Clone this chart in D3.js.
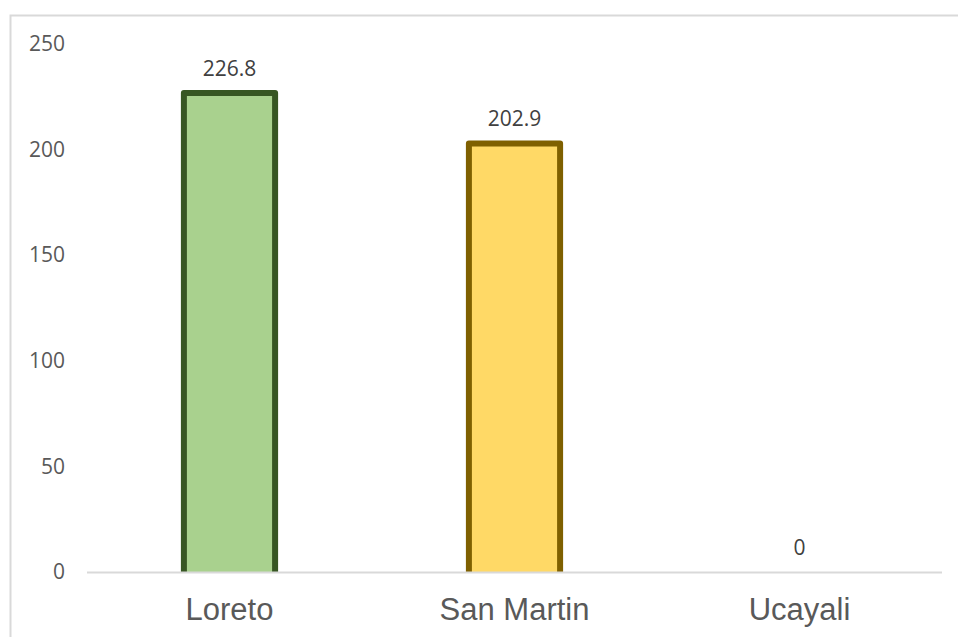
<!DOCTYPE html>
<html><head><meta charset="utf-8">
<script src="https://cdn.jsdelivr.net/npm/d3@7"></script>
<style>body{margin:0;background:#fff}svg{display:block}</style>
</head><body>
<script>
const categories = ["Loreto", "San Martin", "Ucayali"];
const values = [226.8, 202.9, 0];
const valueLabels = ["226.8", "202.9", "0"];
const fills = ["#A9D18E", "#FFD966", "#9DC3E6"];
const strokes = ["#375623", "#7F6000", "#1F4E79"];
const yTicks = [0, 50, 100, 150, 200, 250];

const W = 958, H = 637;
const svg = d3.select("body").append("svg").attr("width", W).attr("height", H);
svg.append("rect").attr("x", 10.5).attr("y", 15.5).attr("width", 960).attr("height", 640)
  .attr("fill", "#fff").attr("stroke", "#D9D9D9").attr("stroke-width", 2);

const x = d3.scaleBand().domain(categories).range([87, 942]).paddingInner(0.68).paddingOuter(0.34);
const y = d3.scaleLinear().domain([0, 250]).range([572, 44]);

svg.append("defs").append("clipPath").attr("id", "plotclip")
  .append("rect").attr("x", 0).attr("y", 0).attr("width", W).attr("height", y(0));

const yAxis = svg.append("g").attr("transform", "translate(65,0)")
  .call(d3.axisLeft(y).tickValues(yTicks).tickSize(0).tickPadding(0));
yAxis.select(".domain").remove();
yAxis.selectAll("text").attr("fill", "#595959").style("font-family", "'Open Sans', sans-serif").style("font-size", "21px");

const data = categories.map((c, i) => ({c, v: values[i], l: valueLabels[i], f: fills[i], s: strokes[i]}));

svg.append("g").attr("clip-path", "url(#plotclip)")
  .selectAll("rect.bar").data(data.filter(d => d.v > 0)).enter().append("rect").attr("class", "bar")
  .attr("x", d => x(d.c)).attr("width", x.bandwidth())
  .attr("y", d => y(d.v)).attr("height", d => y(0) - y(d.v) + 4)
  .attr("fill", d => d.f).attr("stroke", d => d.s).attr("stroke-width", 6).attr("stroke-linejoin", "round");

svg.append("line").attr("x1", 87).attr("x2", 942).attr("y1", 572.5).attr("y2", 572.5)
  .attr("stroke", "#D9D9D9").attr("stroke-width", 2);

svg.selectAll("text.vl").data(data).enter().append("text").attr("class", "vl")
  .attr("x", d => x(d.c) + x.bandwidth() / 2).attr("y", d => y(d.v) - 17)
  .attr("text-anchor", "middle").attr("fill", "#404040")
  .style("font-family", "'Open Sans', sans-serif").style("font-size", "21px")
  .text(d => d.l);

const xAxis = svg.append("g").attr("transform", "translate(0,572)")
  .call(d3.axisBottom(x).tickSize(0).tickPadding(26));
xAxis.select(".domain").remove();
xAxis.selectAll("text").attr("fill", "#595959").style("font-family", "'Liberation Sans', Arial, sans-serif").style("font-size", "31px");
</script>
</body></html>
